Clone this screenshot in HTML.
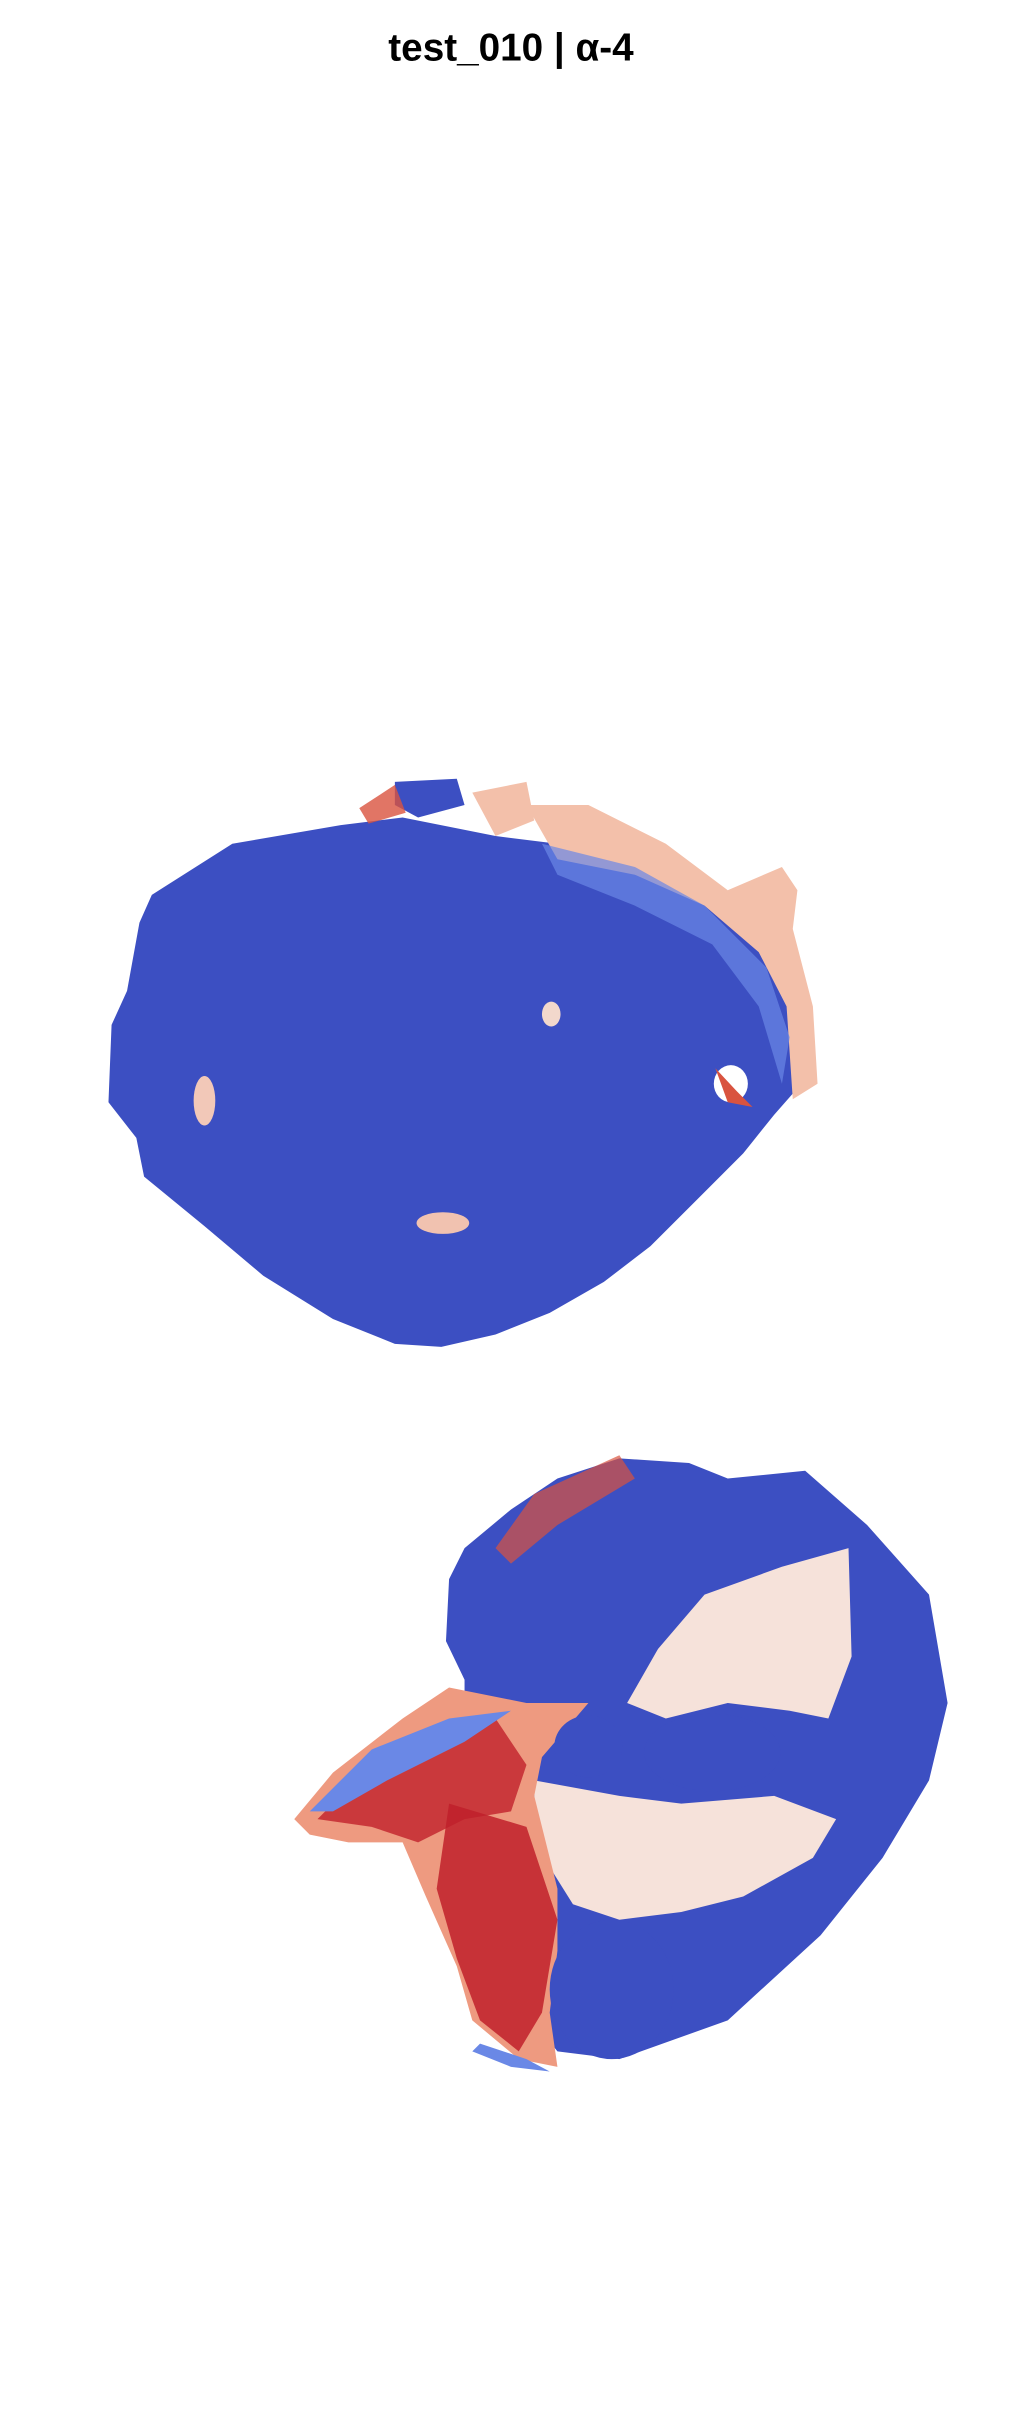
<!DOCTYPE html>
<html><head><meta charset="utf-8"><style>
html,body{margin:0;padding:0;background:#fff}
svg{display:block}
</style></head><body>
<svg width="1022" height="2426" viewBox="0 0 660 1567" xmlns="http://www.w3.org/2000/svg">
<text x="330" y="39" text-anchor="middle" font-family="Liberation Sans, DejaVu Sans, sans-serif" font-weight="bold" font-size="25" fill="#000">test_010 | α-4</text>

<g>
  <path d="M98,578 L150,545 L220,533 L260,528 L320,540 L360,545 L410,560 L450,575 L495,612 L512,650 L522,695 L500,720 L480,745 L450,775 L420,805 L390,828 L355,848 L320,862 L285,870 L255,868 L215,852 L170,824 L132,792 L93,760 L88,735 L70,712 L72,662 L82,640 L90,596 Z" fill="#3c4fc2"/>
  <path d="M255,505 L295,503 L300,520 L270,528 L255,520 Z" fill="#3c4fc2"/>
  <path d="M340,520 L380,520 L430,545 L470,575 L505,560 L515,575 L512,600 L525,650 L528,700 L512,710 L508,650 L490,615 L455,585 L410,565 L360,555 Z" fill="#f3c0aa"/>
  <path d="M350,545 L410,560 L455,585 L495,625 L510,670 L505,700 L490,650 L460,610 L410,585 L360,565 Z" fill="#6a88e6" opacity="0.7"/>
  <path d="M232,522 L255,507 L262,525 L238,532 Z" fill="#d9533f" opacity="0.8"/>
  <path d="M305,512 L340,505 L345,530 L320,540 Z" fill="#f3c0aa"/>
  <ellipse cx="132" cy="711" rx="7" ry="16" fill="#f2c8b8"/>
  <ellipse cx="356" cy="655" rx="6" ry="8" fill="#f2d8cc"/>
  <ellipse cx="286" cy="790" rx="17" ry="7" fill="#f1c2b0"/>
  <ellipse cx="472" cy="700" rx="11" ry="12" fill="#ffffff"/>
  <path d="M462,690 L470,712 L486,715 L476,705 Z" fill="#d9533f"/>
</g>

<g>
  <path d="M290,1020 L300,1000 L330,975 L360,955 L400,942 L445,945 L470,955 L520,950 L560,985 L600,1030 L612,1100 L600,1150 L570,1200 L530,1250 L470,1305 L400,1330 L360,1325 L340,1300 L300,1260 L290,1180 L300,1110 L300,1085 L288,1060 Z" fill="#3c4fc2"/>
  <path d="M425,1065 L455,1030 L505,1012 L548,1000 L550,1070 L535,1110 L510,1105 L470,1100 L430,1110 L405,1100 Z" fill="#f6e2da"/>
  <path d="M345,1150 L400,1160 L440,1165 L500,1160 L540,1175 L525,1200 L480,1225 L440,1235 L400,1240 L370,1230 L345,1190 Z" fill="#f6e2da"/>
  <path d="M190,1175 L215,1145 L260,1110 L290,1090 L340,1100 L380,1100 L350,1135 L345,1160 L360,1220 L360,1260 L355,1300 L360,1335 L335,1330 L305,1305 L295,1270 L275,1225 L260,1190 L225,1190 L200,1185 Z" fill="#ee9a80"/>
  <path d="M205,1175 L240,1140 L285,1115 L320,1110 L340,1140 L330,1170 L300,1175 L270,1190 L240,1180 Z" fill="#c0202a" opacity="0.8"/>
  <path d="M290,1165 L340,1180 L360,1240 L350,1300 L335,1325 L310,1305 L295,1265 L282,1220 Z" fill="#c0202a" opacity="0.85"/>
  <path d="M320,1000 L345,965 L400,940 L410,955 L360,985 L330,1010 Z" fill="#d9533f" opacity="0.7"/>
  <ellipse cx="460" cy="1132" rx="44" ry="25" fill="#3c4fc2"/>
  <ellipse cx="380" cy="1128" rx="22" ry="20" fill="#3c4fc2"/>
  <ellipse cx="395" cy="1285" rx="40" ry="45" fill="#3c4fc2"/>
  <path d="M200,1170 L240,1130 L290,1110 L330,1105 L300,1125 L250,1150 L215,1170 Z" fill="#6a88e6"/>
  <path d="M310,1320 L340,1330 L355,1338 L330,1335 L305,1325 Z" fill="#6a88e6"/>
</g>
</svg>
</body></html>
